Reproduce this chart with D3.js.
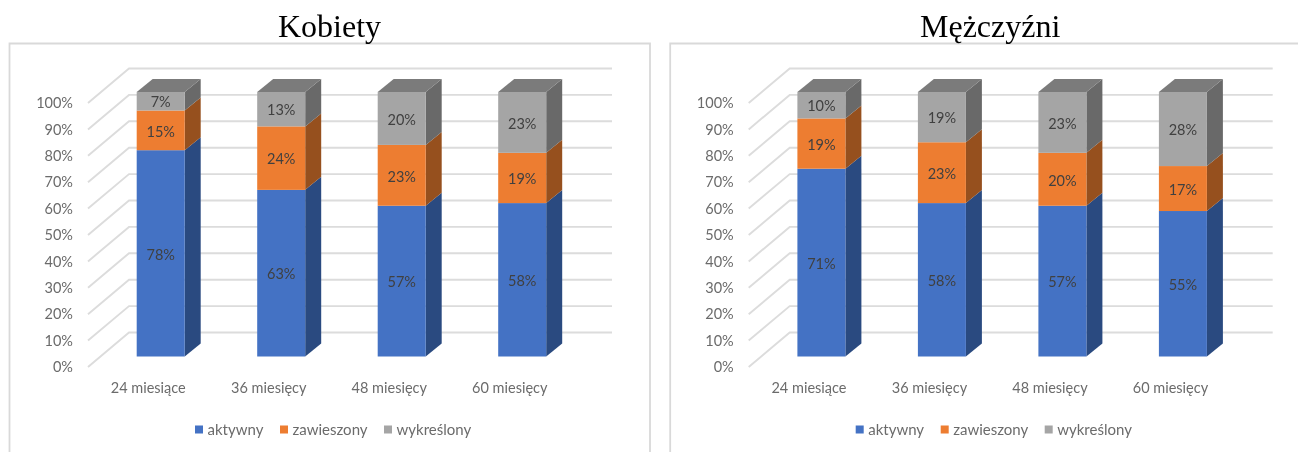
<!DOCTYPE html>
<html lang="pl">
<head>
<meta charset="utf-8">
<style>
html,body{margin:0;padding:0;background:#fff;overflow:hidden}
svg{display:block;filter:blur(0.35px)}
.lab{font-family:Lato,"Open Sans",sans-serif}
</style>
<script src="https://cdn.jsdelivr.net/npm/d3@7/dist/d3.min.js"></script>
</head>
<body>
<svg id="c" width="1298" height="452"></svg>
<script>
const categories = ["24 miesiące", "36 miesięcy", "48 miesięcy", "60 miesięcy"];
const seriesNames = ["aktywny", "zawieszony", "wykreślony"];
const womenAktywny = [78, 63, 57, 58];
const womenZawieszony = [15, 24, 23, 19];
const womenWykreslony = [7, 13, 20, 23];
const menAktywny = [71, 58, 57, 55];
const menZawieszony = [19, 23, 20, 17];
const menWykreslony = [10, 19, 23, 28];
const frontColors = ["#4472c4", "#ed7d31", "#a5a5a5"];
const sideColors = ["#2a4a80", "#96501e", "#696969"];
const topColor = "#7b7b7b";
const tickValues = d3.range(0, 101, 10);

const svg = d3.select("#c");

function panel(title, dx, frameRight, values) {
  const g = svg.append("g").attr("transform", `translate(${dx},0)`);

  // frame
  g.append("path")
    .attr("d", `M9.5,453V43.5H${frameRight}V453`)
    .attr("fill", "#fff").attr("stroke", "#d9d9d9").attr("stroke-width", 1.8);

  // title
  g.append("text").attr("x", 329.5).attr("y", 37).attr("text-anchor", "middle")
    .attr("font-family", "'Liberation Serif',serif").attr("font-size", 32)
    .attr("fill", "#000").text(title);

  const x = d3.scaleBand().domain(categories).range([88, 570]);
  const yAxisScale = d3.scaleLinear().domain([0, 100]).range([367, 103]);
  const yBar = d3.scaleLinear().domain([0, 100]).range([356.5, 92]);
  const wallDX = 41, wallDY = -34.5;
  const barW = 48, barOff = 48.7, depthX = 16, depthY = -13;

  // back wall gridlines + side wall diagonals
  const grid = g.append("g").attr("fill", "none").attr("stroke", "#dcdcdc").attr("stroke-width", 1.9);
  grid.selectAll("path").data(tickValues).join("path")
    .attr("d", d => {
      const y0 = yAxisScale(d);
      return `M88,${y0}L${88 + wallDX},${y0 + wallDY}H612`;
    });

  // axes
  const ay = g.append("g").attr("transform", "translate(88,0)")
    .call(d3.axisLeft(yAxisScale).tickValues(tickValues).tickSize(0).tickPadding(15).tickFormat(d => d + "%"));
  const ax = g.append("g").attr("transform", "translate(0,380)")
    .call(d3.axisBottom(x).tickSize(0).tickPadding(3));
  [ay, ax].forEach(a => {
    a.select(".domain").remove();
    a.selectAll("text").attr("class", "lab").attr("font-size", 14.5).attr("fill", "#6b6b6b");
  });

  // stacked 3D bars
  categories.forEach((c, i) => {
    const x0 = x(c) + barOff;
    let acc = 0;
    values.forEach((s, k) => {
      const v = s[i];
      const y0 = yBar(acc), y1 = yBar(acc + v);
      acc += v;
      g.append("path").attr("fill", sideColors[k])
        .attr("d", `M${x0 + barW},${y0}l${depthX},${depthY}V${y1 + depthY}l${-depthX},${-depthY}Z`);
      g.append("rect").attr("x", x0).attr("y", y1).attr("width", barW).attr("height", y0 - y1)
        .attr("fill", frontColors[k]);
      g.append("text").attr("class", "lab").attr("x", x0 + barW / 2).attr("y", (y0 + y1) / 2 + 1)
        .attr("dy", "0.36em").attr("text-anchor", "middle").attr("font-size", 14.5)
        .attr("fill", "#404040").text(v + "%");
      if (k === values.length - 1) {
        g.append("path").attr("fill", topColor)
          .attr("d", `M${x0},${y1}l${depthX},${depthY}h${barW}l${-depthX},${-depthY}Z`);
      }
    });
  });

  // legend
  const legendX = [195, 280, 384];
  const lg = g.append("g");
  seriesNames.forEach((n, k) => {
    lg.append("rect").attr("x", legendX[k]).attr("y", 425.5).attr("width", 8).attr("height", 8).attr("fill", frontColors[k]);
    lg.append("text").attr("class", "lab").attr("x", legendX[k] + 12.5).attr("y", 430).attr("dy", "0.36em")
      .attr("font-size", 15).attr("fill", "#6b6b6b").text(n);
  });
}

panel("Kobiety", 0, 650, [womenAktywny, womenZawieszony, womenWykreslony]);
panel("Mężczyźni", 660.7, 640, [menAktywny, menZawieszony, menWykreslony]);
</script>
</body>
</html>
